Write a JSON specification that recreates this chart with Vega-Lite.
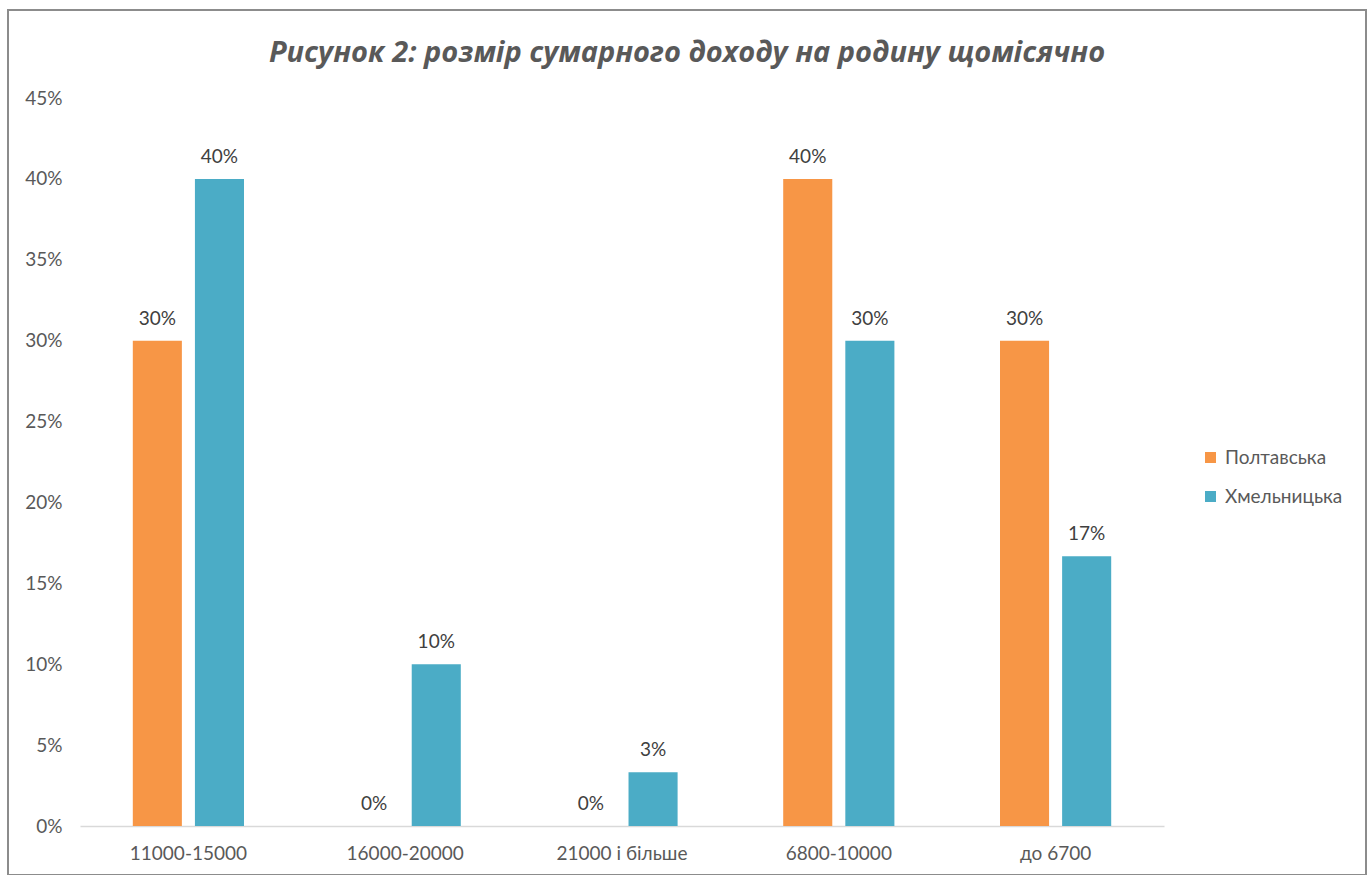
{
  "$schema": "https://vega.github.io/schema/vega-lite/v6.json",
  "autosize": "none",
  "width": 1358,
  "height": 865,
  "padding": {"left": 8, "top": 10, "right": 6, "bottom": 0},
  "background": "white",
  "config": {
    "view": {"stroke": "#8c8c8c", "strokeWidth": 2},
    "font": "Lato"
  },
  "title": {
    "text": "Рисунок 2: розмір сумарного доходу на родину щомісячно",
    "font": "Open Sans",
    "fontSize": 29,
    "fontStyle": "italic",
    "fontWeight": "bold",
    "color": "#595959",
    "frame": "group",
    "anchor": "middle",
    "offset": -58
  },
  "data": {
    "values": [
      {"category": "11000-15000", "region": "Полтавська", "value": 0.30},
      {"category": "11000-15000", "region": "Хмельницька", "value": 0.40},
      {"category": "16000-20000", "region": "Полтавська", "value": 0.0},
      {"category": "16000-20000", "region": "Хмельницька", "value": 0.10},
      {"category": "21000 і більше", "region": "Полтавська", "value": 0.0},
      {"category": "21000 і більше", "region": "Хмельницька", "value": 0.0333},
      {"category": "6800-10000", "region": "Полтавська", "value": 0.40},
      {"category": "6800-10000", "region": "Хмельницька", "value": 0.30},
      {"category": "до 6700", "region": "Полтавська", "value": 0.30},
      {"category": "до 6700", "region": "Хмельницька", "value": 0.1667}
    ]
  },
  "encoding": {
    "x": {
      "field": "category",
      "type": "nominal",
      "sort": ["11000-15000", "16000-20000", "21000 і більше", "6800-10000", "до 6700"],
      "scale": {"range": [72, 1156], "paddingInner": 0, "paddingOuter": 0},
      "axis": {
        "title": null,
        "labelAngle": 0,
        "labelFont": "Lato",
        "labelFontSize": 19,
        "labelColor": "#595959",
        "labelPadding": 18,
        "ticks": false,
        "tickSize": 0,
        "domainColor": "#d9d9d9",
        "domainWidth": 1.5,
        "offset": -49
      }
    },
    "xOffset": {
      "field": "region",
      "type": "nominal",
      "scale": {"paddingInner": 0.21, "paddingOuter": 0.85}
    },
    "y": {
      "field": "value",
      "type": "quantitative",
      "scale": {"domain": [0, 0.45], "range": [816, 88], "nice": false},
      "axis": {
        "title": null,
        "format": ".0%",
        "values": [0, 0.05, 0.1, 0.15, 0.2, 0.25, 0.3, 0.35, 0.4, 0.45],
        "grid": false,
        "domain": false,
        "ticks": false,
        "tickSize": 0,
        "labelFont": "Lato",
        "labelFontSize": 19,
        "labelColor": "#595959",
        "labelPadding": 20,
        "offset": -74
      }
    },
    "color": {
      "field": "region",
      "type": "nominal",
      "scale": {"domain": ["Полтавська", "Хмельницька"], "range": ["#F79646", "#4BACC6"]},
      "legend": {
        "title": null,
        "orient": "none",
        "legendX": 1193,
        "legendY": 438,
        "padding": 0,
        "symbolType": "square",
        "symbolSize": 121,
        "symbolStrokeWidth": 0,
        "labelFont": "Lato",
        "labelFontSize": 19,
        "labelColor": "#595959",
        "labelOffset": 5,
        "rowPadding": 19
      }
    }
  },
  "layer": [
    {"mark": {"type": "bar"}},
    {
      "mark": {"type": "text", "baseline": "alphabetic", "dy": -16, "font": "Lato", "fontSize": 19, "color": "#404040"},
      "encoding": {
        "text": {"field": "value", "type": "quantitative", "format": ".0%"},
        "color": {"value": "#404040"}
      }
    }
  ]
}
